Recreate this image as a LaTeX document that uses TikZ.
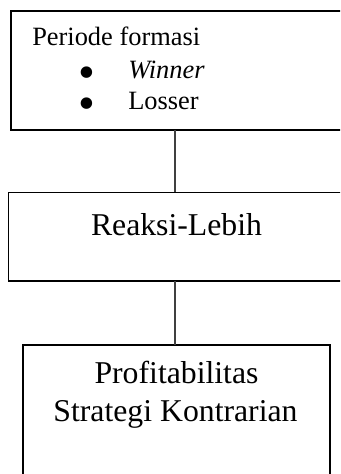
\documentclass[tikz,border=0pt]{standalone}
\usepackage{fontspec}
\setmainfont{Liberation Serif}
\begin{document}
\begin{tikzpicture}[x=0.75pt,y=-0.75pt,
  boxnode/.style={draw=black,line width=1.3pt,rectangle,inner sep=0pt,outer sep=0pt},
  smalltxt/.style={inner sep=0pt,font=\fontsize{19.8pt}{24pt}\selectfont},
  dottxt/.style={inner sep=0pt,align=center,font=\fontsize{36pt}{23.25pt}\selectfont},
  bigtxt/.style={inner sep=0pt,font=\fontsize{23.8pt}{28.5pt}\selectfont},
  link/.style={draw=black!75,line width=0.8pt}]
\path[use as bounding box] (0,0) rectangle (340,474);
\clip (0,0) rectangle (340,474);
\node[boxnode,minimum width=250.5pt,minimum height=89.25pt] (b1) at (178,70.5) {};
\node[boxnode,minimum width=252.4pt,minimum height=66.4pt] (b2) at (176.75,236.75) {};
\node[boxnode,minimum width=230.25pt,minimum height=101.25pt] (b3) at (176.5,412.5) {};
\coordinate (ax) at (175,0);
\draw[link] (b1.south -| ax) -- (b2.north -| ax);
\draw[link] (b2.south -| ax) -- (b3.north -| ax);
\node[smalltxt,anchor=base west] (t1) at (32,45.7) {Periode formasi};
\node[dottxt,anchor=base] (d1) at (86.7,120) {\textbullet\\\textbullet};
\node[smalltxt,anchor=base west] (t2) at (128,79) {\itshape Winner};
\node[smalltxt,anchor=base west] (t3) at (128,110) {Losser};
\node[bigtxt,anchor=base] (t4) at (176.5,235) {Reaksi-Lebih};
\node[bigtxt,anchor=base] (t5) at (176.5,383) {Profitabilitas};
\node[bigtxt,anchor=base] (t6) at (175.5,421.7) {Strategi Kontrarian};
\end{tikzpicture}
\end{document}
